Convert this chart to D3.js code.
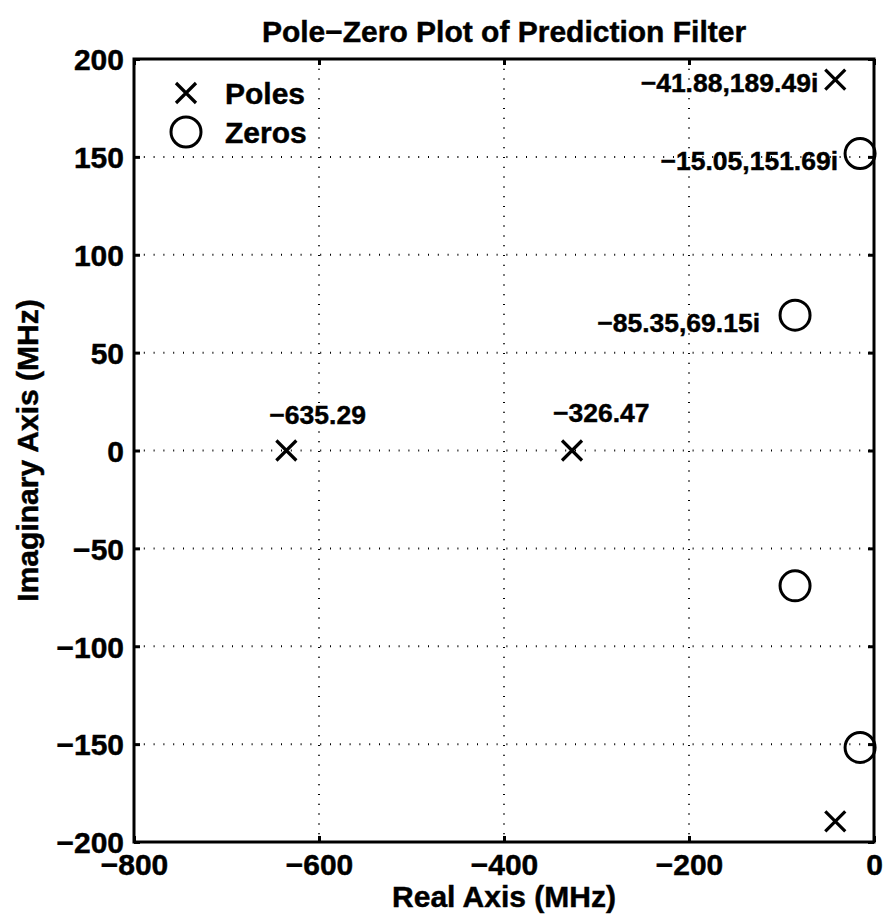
<!DOCTYPE html>
<html>
<head>
<meta charset="utf-8">
<script src="https://cdn.jsdelivr.net/npm/d3@7/dist/d3.min.js"></script>
<style>
  html, body { margin: 0; padding: 0; background: #fff; }
  svg { display: block; font-family: "Liberation Sans", Arial, Helvetica, sans-serif; font-weight: bold; }
  text { stroke: #000; stroke-width: 0.45px; fill: #000; }
</style>
</head>
<body>
<svg id="chart" width="888" height="921"></svg>
<script>
// ---- data ----
const poleRe = [-635.29, -326.47, -41.88, -41.88];
const poleIm = [0, 0, 189.49, -189.49];
const zeroRe = [-85.35, -85.35, -15.05, -15.05];
const zeroIm = [69.15, -69.15, 151.69, -151.69];
const xTicks = [-800, -600, -400, -200, 0];
const yTicks = [-200, -150, -100, -50, 0, 50, 100, 150, 200];
const annotText = ["−635.29", "−326.47", "−41.88,189.49i", "−15.05,151.69i", "−85.35,69.15i"];
const annotRe = [-635.29, -326.47, -41.88, -15.05, -85.35];
const annotIm = [0, 0, 189.49, 151.69, 69.15];
const legendLabels = ["Poles", "Zeros"];

// ---- layout ----
const W = 888, H = 921;
const L = 134, R = 874, T = 59, B = 842;
// label placement (pixel offsets from the annotated point), anchor
const annotLayout = [
  { dx: -17, dy: -36, anchor: "start" },
  { dx: -19, dy: -38, anchor: "start" },
  { dx: -17, dy: 3, anchor: "end" },
  { dx: -22, dy: 7, anchor: "end" },
  { dx: -35, dy: 7, anchor: "end" }
];

const svg = d3.select("#chart");
const x = d3.scaleLinear().domain([-800, 0]).range([L, R]);
const y = d3.scaleLinear().domain([-200, 200]).range([B, T]);
const fmt = d => (d < 0 ? "−" + Math.abs(d) : String(d));

// grid
const grid = svg.append("g").attr("stroke", "#000").attr("stroke-width", 2)
  .attr("stroke-dasharray", "1,8.8");
grid.selectAll("line.vx").data(xTicks.slice(1, -1)).join("line")
  .attr("x1", d => x(d)).attr("x2", d => x(d)).attr("y1", T).attr("y2", B);
grid.selectAll("line.hy").data(yTicks.slice(1, -1)).join("line")
  .attr("x1", L).attr("x2", R).attr("y1", d => y(d)).attr("y2", d => y(d));

// axes (ticks inward, labels)
const tickLen = 6;
const xAxisB = d3.axisBottom(x).tickValues(xTicks).tickSizeInner(-tickLen).tickSizeOuter(0).tickFormat(fmt).tickPadding(12);
const xAxisT = d3.axisTop(x).tickValues(xTicks).tickSizeInner(-tickLen).tickSizeOuter(0).tickFormat("");
const yAxisL = d3.axisLeft(y).tickValues(yTicks).tickSizeInner(-tickLen).tickSizeOuter(0).tickFormat(fmt).tickPadding(10);
const yAxisR = d3.axisRight(y).tickValues(yTicks).tickSizeInner(-tickLen).tickSizeOuter(0).tickFormat("");

function styleAxis(g) {
  g.select(".domain").remove();
  g.selectAll(".tick line").attr("stroke", "#000").attr("stroke-width", 3);
  g.selectAll(".tick text").attr("fill", "#000")
    .style("font-size", "30px").style("font-weight", "bold")
    .style("font-family", "'Liberation Sans', Arial, sans-serif");
}
svg.append("g").attr("transform", `translate(0,${B})`).call(xAxisB).call(styleAxis)
  .selectAll(".tick text").attr("dy", "0.71em");
svg.append("g").attr("transform", `translate(0,${T})`).call(xAxisT).call(styleAxis);
svg.append("g").attr("transform", `translate(${L},0)`).call(yAxisL).call(styleAxis)
  .selectAll(".tick text").attr("dy", "0.36em");
svg.append("g").attr("transform", `translate(${R},0)`).call(yAxisR).call(styleAxis);

// markers
const xSize = 10;
function drawX(g, cx, cy) {
  g.append("path")
    .attr("d", `M${cx - xSize},${cy - xSize}L${cx + xSize},${cy + xSize}M${cx - xSize},${cy + xSize}L${cx + xSize},${cy - xSize}`)
    .attr("stroke", "#000").attr("stroke-width", 3.2).attr("fill", "none");
}
const marks = svg.append("g");
poleRe.forEach((re, i) => drawX(marks, x(re), y(poleIm[i])));
marks.selectAll("circle.zero").data(zeroRe.map((re, i) => [re, zeroIm[i]])).join("circle")
  .attr("class", "zero")
  .attr("cx", d => x(d[0])).attr("cy", d => y(d[1])).attr("r", 15)
  .attr("fill", "none").attr("stroke", "#000").attr("stroke-width", 3);

// annotations
svg.append("g").selectAll("text").data(annotText).join("text")
  .attr("x", (d, i) => x(annotRe[i]) + annotLayout[i].dx)
  .attr("y", (d, i) => y(annotIm[i]) + annotLayout[i].dy)
  .attr("dy", "0.36em")
  .attr("text-anchor", (d, i) => annotLayout[i].anchor)
  .style("font-size", "26.5px")
  .text(d => d);

// frame
svg.append("rect").attr("x", L).attr("y", T).attr("width", R - L).attr("height", B - T)
  .attr("fill", "none").attr("stroke", "#000").attr("stroke-width", 3);

// legend
const lg = svg.append("g");
drawX(lg, 186, 93);
lg.append("circle").attr("cx", 186).attr("cy", 132).attr("r", 15)
  .attr("fill", "none").attr("stroke", "#000").attr("stroke-width", 3);
lg.selectAll("text").data(legendLabels).join("text")
  .attr("x", 225).attr("y", (d, i) => 93 + i * 39).attr("dy", "0.36em")
  .style("font-size", "30px").text(d => d);

// titles
svg.append("text").attr("x", (L + R) / 2).attr("y", 42).attr("text-anchor", "middle")
  .style("font-size", "30px").text("Pole−Zero Plot of Prediction Filter");
svg.append("text").attr("x", (L + R) / 2).attr("y", 907).attr("text-anchor", "middle")
  .style("font-size", "30px").text("Real Axis (MHz)");
svg.append("text").attr("transform", `translate(38,${(T + B) / 2}) rotate(-90)`)
  .attr("text-anchor", "middle").style("font-size", "30px").text("Imaginary Axis (MHz)");
</script>
</body>
</html>
